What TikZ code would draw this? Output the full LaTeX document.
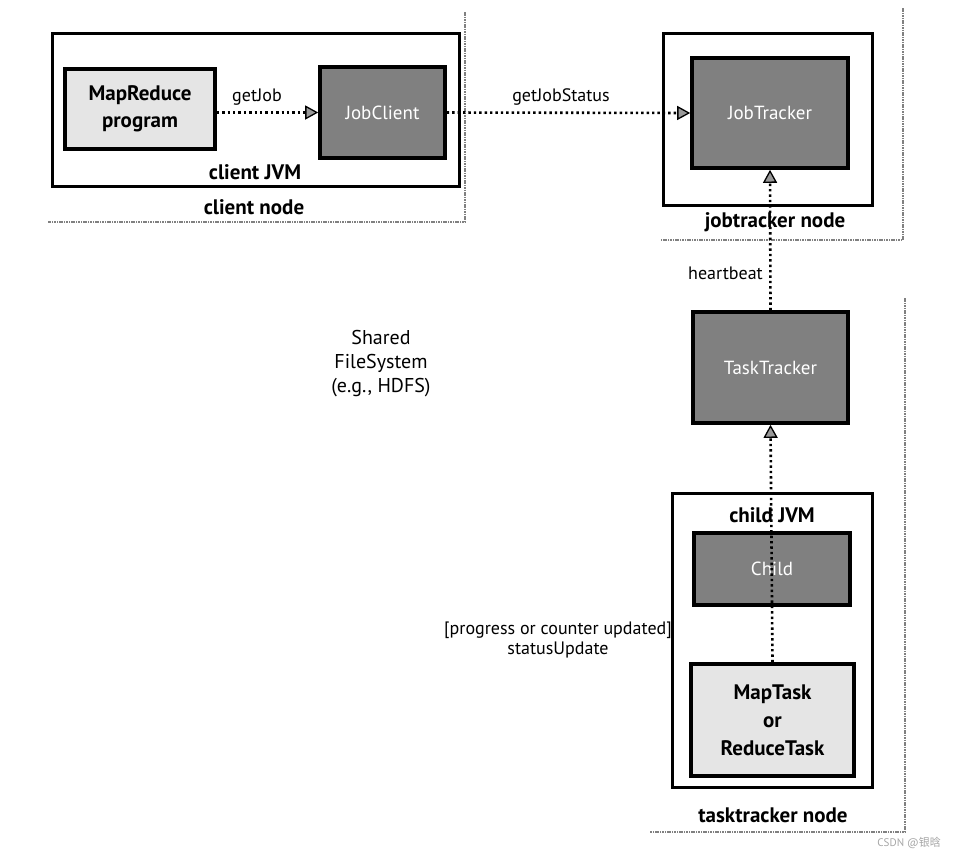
\documentclass[tikz,border=0pt]{standalone}
\usepackage{fontspec}
\setmainfont{PT Sans}
\newfontfamily\cjkfont{Noto Sans CJK SC}
\usetikzlibrary{arrows.meta}
\tikzset{
  region/.style={draw=black!50, line width=1.5pt, dash pattern=on 1.6pt off 0.8pt},
  frame/.style={draw=black, line width=3pt, fill=white, inner sep=0pt},
  darkbox/.style={draw=black, line width=3.6pt, fill=black!50, inner sep=0pt},
  lightbox/.style={draw=black, line width=3.6pt, fill=black!10, inner sep=0pt},
  flow/.style={line width=2.6pt, dash pattern=on 2.4pt off 3pt,
    -{Triangle[length=13pt,width=14pt,fill=black!40,line width=1.3pt]}},
  lbl/.style={font=\fontsize{18}{20}\selectfont, inner sep=0pt, align=center},
  blbl/.style={font=\bfseries\fontsize{21}{27}\selectfont, inner sep=0pt, align=center},
  wlbl/.style={font=\fontsize{19}{22}\selectfont, text=white, inner sep=0pt},
}
\begin{document}
\begin{tikzpicture}[x=1pt,y=-1pt]
\useasboundingbox (0,0) rectangle (960,860);
% region boundaries
\coordinate (cn1) at (465,12);
\coordinate (cn2) at (465,222);
\coordinate (cn3) at (48,222);
\draw[region] (cn1) -- (cn2) -- (cn3);
\coordinate (jn1) at (903,8);
\coordinate (jn2) at (903,240);
\coordinate (jn3) at (660,240);
\draw[region] (jn1) -- (jn2) -- (jn3);
\coordinate (tn1) at (905,298);
\coordinate (tn2) at (905,832);
\coordinate (tn3) at (650,832);
\draw[region] (tn1) -- (tn2) -- (tn3);
% frames
\node[frame, minimum width=407pt, minimum height=153pt] (cjvm) at (255.5,109.5) {};
\node[frame, minimum width=209pt, minimum height=172pt] (jtn) at (767.5,119) {};
\node[frame, minimum width=200pt, minimum height=294pt] (chjvm) at (772,640) {};
% boxes
\node[lightbox, minimum width=150pt, minimum height=80pt] (mr) at (140,109) {};
\node[darkbox, minimum width=125pt, minimum height=91pt] (jc) at (382.5,112.5) {};
\node[darkbox, minimum width=156pt, minimum height=110pt] (jt) at (770,113) {};
\node[darkbox, minimum width=155pt, minimum height=111pt] (tt) at (770.5,367.5) {};
\node[darkbox, minimum width=156pt, minimum height=72pt] (ch) at (772,569) {};
\node[lightbox, minimum width=163pt, minimum height=112pt] (mt) at (772.5,720) {};
% box texts
\node[blbl] (mrt) at (mr) {MapReduce\\program};
\node[wlbl] (jct) at (jc) {JobClient};
\node[wlbl] (jtt) at (jt) {JobTracker};
\node[wlbl] (ttt) at (tt) {TaskTracker};
\node[wlbl] (cht) at (ch) {Child};
\node[blbl, font=\bfseries\fontsize{21}{28}\selectfont] (mtt) at (mt) {MapTask\\or\\ReduceTask};
% frame/region labels
\node[blbl] (cjvml) at (255,172) {client JVM};
\node[blbl] (cnl) at (254,207) {client node};
\node[blbl] (jtnl) at (775,222) {jobtracker node};
\node[blbl] (chjvml) at (772,515) {child JVM};
\node[blbl] (tnl) at (773,815) {tasktracker node};
% connectors
\draw[flow] (jc.west -| mr.east) -- (jc.west);
\draw[flow] (jc.east) -- (jt.west);
\draw[flow] (tt.north) -- (jt.south);
\draw[flow] (mt.north) -- (tt.south);
% connector labels
\node[lbl] (l1) at (257,97) {getJob};
\node[lbl] (l2) at (561,97) {getJobStatus};
\node[lbl, anchor=east] (l3) at (763,273) {heartbeat};
\node[lbl] (l4) at (558,640) {[progress or counter updated]\\statusUpdate};
\node[lbl, font=\fontsize{20}{24}\selectfont] (fs) at (381,364) {Shared\\FileSystem\\(e.g., HDFS)};
% watermark
\node[inner sep=0pt, anchor=east, text=gray!70, font=\fontsize{11}{13}\selectfont] (wm) at (941,843) {CSDN @{\cjkfont 银晗}};
\end{tikzpicture}
\end{document}
